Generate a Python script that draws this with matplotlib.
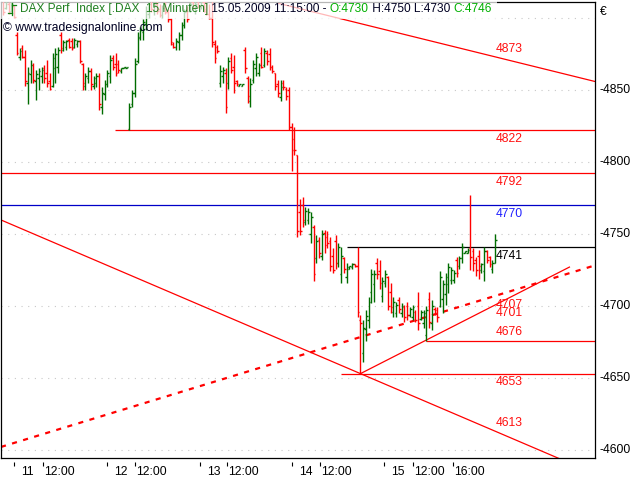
import numpy as np
import matplotlib.pyplot as plt
from matplotlib.lines import Line2D
from matplotlib.patches import Rectangle

plt.rcParams['font.family'] = ['Liberation Sans', 'DejaVu Sans']
plt.rcParams['font.size'] = 8.7

# DAX 15 minute bars (bar number = position in the series)
opens = [4914, 4907, 4910, 4905, 4908, 4888, 4873, 4879, 4873, 4855, 4861, 4867, 4856, 4858, 4860, 4865, 4862, 4856, 4853, 4865,
         4866, 4888, 4878, 4880, 4885, 4884, 4880, 4882, 4884, 4868, 4853, 4858, 4863, 4853, 4855, 4860, 4838, 4847, 4854, 4860,
         4872, 4868, 4868, 4863, 4865, 4865, 4823, 4840, 4848, 4870, 4886, 4890, 4896, 4903, 4910, 4905, 4910, 4906, 4902, 4908,
         4904, 4899, 4882, 4880, 4883, 4888, 4895, 4905, 4905, 4911, 4905, 4911, 4908, 4911, 4906, 4903, 4900, 4882, 4880, 4855,
         4860, 4862, 4855, 4872, 4866, 4856, 4853, 4853, 4878, 4858, 4842, 4857, 4865, 4862, 4876, 4867, 4876, 4875, 4866, 4862,
         4854, 4845, 4855, 4851, 4850, 4824, 4816, 4805, 4765, 4770, 4758, 4760, 4750, 4755, 4733, 4746, 4735, 4751, 4748, 4745,
         4735, 4745, 4730, 4722, 4733, 4720, 4726, 4727, 4729, 4728, 4690, 4667, 4684, 4690, 4710, 4715, 4730, 4724, 4707, 4716,
         4720, 4710, 4696, 4695, 4704, 4695, 4699, 4700, 4694, 4692, 4696, 4700, 4691, 4688, 4680, 4705, 4688, 4698, 4697, 4700,
         4705, 4708, 4715, 4718, 4718, 4732, 4728, 4733, 4737, 4737, 4740, 4738, 4732, 4735, 4725, 4724, 4738, 4734, 4726, 4730]
highs = [4916, 4915, 4911, 4912, 4909, 4890, 4879, 4881, 4878, 4866, 4871, 4869, 4864, 4865, 4866, 4867, 4871, 4862, 4876, 4879,
         4880, 4890, 4885, 4885, 4886, 4886, 4886, 4885, 4885, 4869, 4862, 4866, 4865, 4860, 4862, 4862, 4852, 4857, 4864, 4874,
         4874, 4876, 4871, 4865, 4866, 4866, 4841, 4850, 4872, 4890, 4894, 4899, 4908, 4912, 4915, 4911, 4914, 4910, 4909, 4911,
         4906, 4900, 4883, 4886, 4890, 4897, 4906, 4908, 4911, 4914, 4912, 4916, 4915, 4912, 4911, 4910, 4912, 4885, 4881, 4867,
         4866, 4865, 4873, 4876, 4874, 4857, 4854, 4854, 4880, 4860, 4858, 4871, 4876, 4869, 4880, 4879, 4878, 4879, 4867, 4862,
         4857, 4857, 4857, 4852, 4852, 4827, 4824, 4805, 4774, 4776, 4769, 4768, 4765, 4756, 4749, 4748, 4753, 4753, 4752, 4748,
         4740, 4749, 4744, 4741, 4734, 4730, 4728, 4730, 4729, 4741, 4694, 4690, 4697, 4706, 4726, 4725, 4733, 4732, 4720, 4725,
         4721, 4716, 4706, 4703, 4706, 4702, 4701, 4703, 4699, 4701, 4697, 4710, 4697, 4697, 4700, 4710, 4704, 4699, 4699, 4724,
         4718, 4723, 4730, 4727, 4725, 4734, 4735, 4744, 4738, 4740, 4777, 4740, 4734, 4739, 4730, 4741, 4739, 4735, 4732, 4750]
lows = [4902, 4906, 4903, 4904, 4900, 4874, 4871, 4872, 4853, 4840, 4855, 4855, 4843, 4850, 4855, 4855, 4852, 4850, 4852, 4855,
        4862, 4876, 4877, 4878, 4879, 4878, 4879, 4880, 4869, 4850, 4850, 4855, 4850, 4851, 4852, 4836, 4833, 4843, 4852, 4855,
        4864, 4860, 4862, 4862, 4865, 4865, 4822, 4838, 4845, 4869, 4885, 4885, 4892, 4900, 4904, 4902, 4903, 4901, 4900, 4903,
        4897, 4881, 4879, 4878, 4878, 4885, 4893, 4897, 4904, 4906, 4903, 4907, 4906, 4904, 4902, 4899, 4880, 4869, 4876, 4852,
        4855, 4834, 4851, 4862, 4848, 4853, 4853, 4853, 4862, 4841, 4838, 4855, 4860, 4860, 4865, 4866, 4867, 4864, 4862, 4850,
        4845, 4842, 4850, 4843, 4822, 4794, 4805, 4748, 4749, 4755, 4756, 4757, 4744, 4717, 4730, 4733, 4732, 4737, 4740, 4724,
        4723, 4726, 4727, 4716, 4723, 4716, 4726, 4726, 4727, 4692, 4653, 4661, 4676, 4685, 4702, 4703, 4719, 4712, 4703, 4713,
        4697, 4695, 4692, 4692, 4695, 4692, 4689, 4690, 4692, 4690, 4689, 4683, 4690, 4685, 4676, 4685, 4683, 4694, 4689, 4699,
        4695, 4701, 4709, 4715, 4716, 4720, 4726, 4730, 4737, 4737, 4725, 4724, 4721, 4719, 4723, 4717, 4730, 4727, 4723, 4730]
closes = [4904, 4913, 4904, 4910, 4901, 4876, 4877, 4873, 4856, 4862, 4867, 4857, 4861, 4863, 4864, 4858, 4855, 4851, 4872, 4875,
          4878, 4879, 4883, 4884, 4880, 4879, 4885, 4884, 4870, 4855, 4860, 4863, 4854, 4858, 4860, 4840, 4848, 4854, 4862, 4871,
          4866, 4862, 4864, 4865, 4866, 4866, 4838, 4848, 4868, 4887, 4892, 4897, 4905, 4910, 4906, 4909, 4905, 4902, 4907, 4904,
          4899, 4883, 4880, 4884, 4888, 4895, 4904, 4899, 4910, 4907, 4910, 4908, 4913, 4905, 4903, 4900, 4883, 4872, 4877, 4863,
          4864, 4838, 4870, 4864, 4855, 4854, 4854, 4854, 4865, 4846, 4854, 4868, 4873, 4867, 4866, 4877, 4870, 4866, 4863, 4853,
          4848, 4852, 4852, 4846, 4824, 4808, 4808, 4752, 4752, 4760, 4766, 4765, 4762, 4722, 4745, 4737, 4750, 4742, 4744, 4728,
          4725, 4730, 4741, 4735, 4726, 4727, 4728, 4729, 4728, 4696, 4688, 4685, 4693, 4703, 4722, 4722, 4722, 4716, 4717, 4722,
          4700, 4699, 4703, 4701, 4698, 4700, 4692, 4694, 4698, 4699, 4690, 4688, 4696, 4695, 4697, 4689, 4700, 4695, 4692, 4720,
          4715, 4720, 4727, 4725, 4723, 4723, 4733, 4741, 4738, 4739, 4734, 4730, 4725, 4728, 4729, 4738, 4732, 4729, 4730, 4746]

# horizontal levels: price, first bar
levels = [4822, 4792, 4770, 4741, 4676, 4653]
level_start = [40.7, -1, -1, 125, 154, 123]
# trend lines: two anchor points (bar, price)
trend_upper = [(179, 4873), (214, 4856.5)]
trend_lower = [(130, 4653), (179, 4613)]
trend_dashed = [(-0.7, 4602.1), (179, 4707)]
trend_rising = [(130, 4653), (206, 4727)]

label_values = [4873, 4822, 4792, 4770, 4741, 4707, 4701, 4676, 4653, 4613]
label_colors = ['#ff1010', '#ff1010', '#ff1010', '#2020ff', 'black', '#ff1010', '#ff1010', '#ff1010', '#ff1010', '#ff1010']
label_above = [True, False, False, False, False, False, False, True, False, True]

day_labels = ['11', '12', '13', '14', '15']
day_ticks = [4.0, 37.8, 71.6, 105.1, 138.5]
time_labels = ['12:00', '12:00', '12:00', '12:00', '12:00', '16:00']
time_ticks = [14.5, 48.0, 81.5, 115.3, 149.1, 163.6]

price_ticks = [4600, 4650, 4700, 4750, 4800, 4850]

fig = plt.figure(figsize=(6.4, 4.8), dpi=100)
ax = fig.add_axes([1 / 640, 22 / 480, 594 / 640, 456 / 480])
x_min, x_max = -0.73, 215.3
ax.set_xlim(x_min, x_max)
ax.set_ylim(4594.4, 4911.1)
ax.set_xticks([])
ax.set_yticks([])
for s in ax.spines.values():
    s.set_linewidth(0.9)

# dotted grid
for g in range(4600, 4950, 50):
    ax.axhline(g, color='#c8c8c8', lw=0.8, ls=(0, (1, 5)), zorder=0)

# bars
x = np.arange(len(opens))
o = np.array(opens)
c = np.array(closes)
cols = np.where(c >= o, '#006c00', '#ff0000')
ax.vlines(x, lows, highs, colors=cols, lw=1.0, zorder=3)
ax.hlines(o, x - 0.6, x, colors=cols, lw=1.0, zorder=3)
ax.hlines(c, x, x + 0.6, colors=cols, lw=1.0, zorder=3)

# horizontal levels
for lv, st in zip(levels, level_start):
    col = '#ff0000'
    if lv == 4770:
        col = '#0000c8'
    if lv == 4741:
        col = 'black'
    ax.hlines(lv, max(st, x_min), x_max, colors=col, lw=0.9, zorder=2)


def trend(pts, x0, x1):
    (a, pa), (b, pb) = pts
    k = (pb - pa) / (b - a)
    xs = np.array([x0, x1])
    return xs, pa + k * (xs - a)


xs, ys = trend(trend_upper, 100, x_max)
ax.plot(xs, ys, color='#ff0000', lw=0.9, zorder=2)
xs, ys = trend(trend_lower, x_min, 205)
ax.plot(xs, ys, color='#ff0000', lw=0.9, zorder=2)
xs, ys = trend(trend_dashed, x_min, x_max)
ax.plot(xs, ys, color='#ff0000', lw=1.6, ls=(0, (2.3, 2.9)), zorder=2)
xs, ys = trend(trend_rising, trend_rising[0][0], trend_rising[1][0])
ax.plot(xs, ys, color='#ff0000', lw=0.9, zorder=2)

# level labels at last bar
last = len(opens) - 1
for v, col, up in zip(label_values, label_colors, label_above):
    ax.annotate(str(v), xy=(last, v), xytext=(0, 1.5 if up else -2), textcoords='offset points',
                color=col, ha='left', va='bottom' if up else 'top', zorder=5)

# right price scale
ytr = ax.get_yaxis_transform()
for p in price_ticks:
    ax.annotate('-' + str(p), xy=(1, p), xycoords=ytr, xytext=(3.2, 0), textcoords='offset points',
                ha='left', va='center', annotation_clip=False)
ax.annotate('\u20ac', xy=(1, 1), xycoords='axes fraction', xytext=(3.6, -7), textcoords='offset points',
            ha='left', va='center', annotation_clip=False)

# time axis
xtr = ax.get_xaxis_transform()
ax.vlines(day_ticks + time_ticks, -0.009, -0.017, transform=xtr, colors='black', lw=0.8, clip_on=False)
for t, lbl in zip(day_ticks, day_labels):
    ax.annotate(lbl, xy=(t, 0), xycoords=xtr, xytext=(5, -9.8), textcoords='offset points',
                ha='left', va='center', annotation_clip=False)
for t, lbl in zip(time_ticks, time_labels):
    ax.annotate(lbl, xy=(t, 0), xycoords=xtr, xytext=(0.7, -9.8), textcoords='offset points',
                ha='left', va='center', annotation_clip=False)

# title block: translucent white strip over the bars, then the text
ax.add_patch(Rectangle((0, 461 / 480), 497 / 640, 19 / 480, transform=fig.transFigure,
                       facecolor='white', edgecolor='none', alpha=0.72, zorder=6, clip_on=False))
ic = '#108010'
for xx, yy in [([12, 12], [465, 477]), ([8, 12], [467, 467]), ([12, 16], [475, 475])]:
    ax.add_line(Line2D(np.array(xx) / 640, np.array(yy) / 480, transform=fig.transFigure,
                       color=ic, lw=0.9, zorder=7, clip_on=False))

parts = [('DAX Perf. Index [.DAX  15 Minuten]', '#1f7f1f'), (' 15.05.2009 11:15:00 - ', '#000022'),
         ('O:4730', '#00b000'), (' H:4750 L:4730 ', '#000022'), ('C:4746', '#00b000')]
prev = None
for txt, col in parts:
    if prev is None:
        prev = ax.annotate(txt, xy=(20, 465), xycoords='figure pixels', color=col, fontsize=8.6,
                           ha='left', va='bottom', zorder=8, annotation_clip=False)
    else:
        prev = ax.annotate(txt, xy=(1, 0), xycoords=prev, color=col, fontsize=8.6,
                           ha='left', va='bottom', zorder=8, annotation_clip=False)
ax.annotate('\u00a9 www.tradesignalonline.com', xy=(3, 452), xycoords='figure pixels', color='#000022',
            ha='left', va='center', zorder=8, annotation_clip=False)

fig.savefig('out.png', dpi=100)
